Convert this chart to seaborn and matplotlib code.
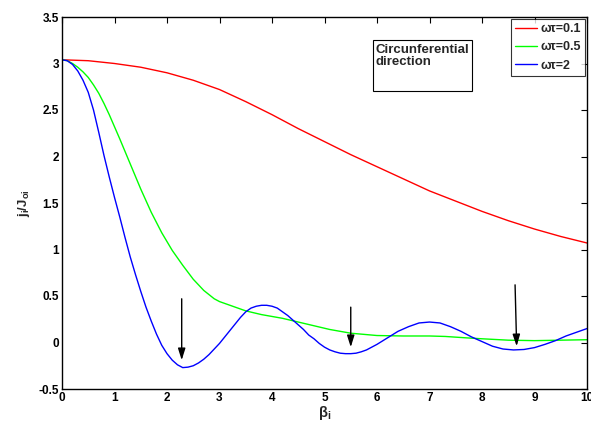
import numpy as np
import pandas as pd
import matplotlib
matplotlib.use("Agg")
import matplotlib.pyplot as plt
from matplotlib.patches import Rectangle
import seaborn as sns

# ---- data ----
red_x = [0, 0.5, 1.0, 1.5, 2.0, 2.5, 3.0, 3.5, 4.0, 4.5, 5.0, 5.5, 6.0, 6.5, 7.0, 7.5, 8.0, 8.5, 9.0, 9.5, 10.0]
red_y = [3.04, 3.03, 3.0, 2.96, 2.90, 2.82, 2.72, 2.59, 2.45, 2.30, 2.16, 2.02, 1.89, 1.76, 1.63, 1.52, 1.41, 1.31, 1.22, 1.14, 1.07]

green_x = [0, 0.1, 0.2, 0.3, 0.4, 0.5, 0.6, 0.7, 0.8, 0.9, 1.0, 1.1, 1.3, 1.5, 1.7, 1.9, 2.1, 2.3, 2.5, 2.7, 2.9, 3.0, 3.2, 3.5,
           3.8, 4.2, 4.5, 4.8, 5.1, 5.5, 6.0, 6.5, 7.0, 7.3, 7.7, 8.0, 8.5, 9.0, 9.5, 10.0]
green_y = [3.04, 3.03, 3.00, 2.96, 2.91, 2.85, 2.77, 2.68, 2.57, 2.45, 2.32, 2.19, 1.92, 1.65, 1.40, 1.18, 0.99, 0.83, 0.68, 0.56, 0.47, 0.44, 0.40, 0.34,
           0.30, 0.26, 0.22, 0.18, 0.14, 0.10, 0.075, 0.07, 0.07, 0.065, 0.05, 0.04, 0.025, 0.02, 0.025, 0.03]

blue_x = [0, 0.1, 0.2, 0.3, 0.4, 0.5, 0.6, 0.7, 0.8, 0.9, 1.0, 1.1, 1.2, 1.3, 1.4, 1.5, 1.6, 1.7, 1.8, 1.9, 2.0,
          2.1, 2.2, 2.3, 2.4, 2.5, 2.6, 2.7, 2.8, 2.9, 3.0, 3.1, 3.2, 3.3, 3.4, 3.5, 3.6, 3.7, 3.8, 3.9, 4.0,
          4.1, 4.2, 4.3, 4.4, 4.5, 4.6, 4.7, 4.8, 4.9, 5.0, 5.1, 5.2, 5.3, 5.4, 5.5, 5.6, 5.7, 5.8, 5.9, 6.0,
          6.2, 6.4, 6.6, 6.8, 7.0, 7.2, 7.4, 7.6, 7.8, 8.0, 8.2, 8.4, 8.6, 8.8, 9.0, 9.2, 9.4, 9.6, 9.8, 10.0]
blue_y = [3.04, 3.03, 2.99, 2.92, 2.82, 2.69, 2.50, 2.26, 2.01, 1.78, 1.56, 1.35, 1.13, 0.92, 0.73, 0.55, 0.38, 0.23, 0.09, -0.03, -0.12,
          -0.19, -0.24, -0.27, -0.265, -0.25, -0.22, -0.18, -0.13, -0.07, -0.01, 0.06, 0.13, 0.20, 0.27, 0.33, 0.37, 0.39, 0.40, 0.40, 0.39,
          0.37, 0.33, 0.29, 0.24, 0.19, 0.14, 0.08, 0.04, -0.01, -0.05, -0.08, -0.10, -0.115, -0.12, -0.12, -0.115, -0.10, -0.08, -0.05, -0.02,
          0.05, 0.12, 0.17, 0.21, 0.22, 0.21, 0.17, 0.12, 0.06, 0.01, -0.04, -0.07, -0.08, -0.075, -0.055, -0.02, 0.02, 0.07, 0.11, 0.15]

labels = ["ωτ=0.1", "ωτ=0.5", "ωτ=2"]
colors = ["#ff0000", "#00ff00", "#0000ff"]

# arrows: start x, tip x, start y, tip y
arrow_x = [2.28, 5.50, 8.63]
arrow_x_tip = [2.28, 5.50, 8.66]
arrow_top = [0.47, 0.38, 0.62]
arrow_tip = [-0.19, -0.05, -0.04]

note_text = "Circunferential\ndirection"

# ---- styling ----
sns.set_style("white")
plt.rcParams['font.family'] = ['Liberation Sans', 'DejaVu Sans']
plt.rcParams['font.weight'] = 'bold'
plt.rcParams['mathtext.fontset'] = 'custom'
plt.rcParams['mathtext.rm'] = 'Liberation Sans:bold'
plt.rcParams['mathtext.it'] = 'Liberation Sans:bold'
plt.rcParams['mathtext.bf'] = 'Liberation Sans:bold'

fig = plt.figure(figsize=(5.91, 4.26), dpi=100)
ax = fig.add_axes([62/591, 37/426, (587-62)/591, (389-17)/426])

frames = []
for xs, ys, lab in [(red_x, red_y, labels[0]), (green_x, green_y, labels[1]), (blue_x, blue_y, labels[2])]:
    frames.append(pd.DataFrame({"x": xs, "y": ys, "series": lab}))
df = pd.concat(frames, ignore_index=True)

sns.lineplot(data=df, x="x", y="y", hue="series", palette=colors, hue_order=labels,
             linewidth=1.0, ax=ax, sort=False, estimator=None)

for xs, xt, yt, yb in zip(arrow_x, arrow_x_tip, arrow_top, arrow_tip):
    ax.annotate("", xy=(xt, yb), xytext=(xs, yt),
                arrowprops=dict(arrowstyle="-|>,head_length=0.7,head_width=0.22", color="black", lw=1.0,
                                mutation_scale=10, shrinkA=0, shrinkB=0))

ax.set_xlim(0, 10)
ax.set_ylim(-0.5, 3.5)
ax.set_xticks(np.arange(0, 11, 1))
ax.set_yticks(np.arange(-0.5, 3.51, 0.5))
ax.set_xticklabels([str(i) for i in range(11)])
ax.set_yticklabels(["-0.5", "0", "0.5", "1", "1.5", "2", "2.5", "3", "3.5"])
ax.tick_params(direction="in", length=4, width=0.8, top=True, right=True,
               labelsize=8.5, pad=2, colors="black")
for lab in ax.get_xticklabels() + ax.get_yticklabels():
    lab.set_fontweight("bold")
for sp in ax.spines.values():
    sp.set_visible(True)
    sp.set_color("black")
    sp.set_linewidth(1.0)

ax.set_xlabel(r"$\mathbf{\beta_i}$", fontsize=10.5, labelpad=0)
ax.set_ylabel(r"j$_\mathregular{i}$/J$_\mathregular{oi}$", fontsize=9.5, fontweight="bold", labelpad=5)

leg = ax.legend(loc="upper right", fontsize=9, frameon=True, fancybox=False,
                edgecolor="black", borderpad=0.35, handlelength=1.7, handletextpad=0.3,
                labelspacing=0.5, borderaxespad=0.15)
leg.get_frame().set_linewidth(0.8)
for t in leg.get_texts():
    t.set_fontweight("bold")

ax.add_patch(Rectangle((5.92, 2.70), 7.81 - 5.92, 3.25 - 2.70, facecolor="white",
                       edgecolor="black", linewidth=0.8, zorder=3))
ax.text(5.97, 3.21, note_text, fontsize=9.5, fontweight="bold",
        va="top", ha="left", linespacing=1.05, zorder=4)

fig.savefig("out.png", dpi=100)
